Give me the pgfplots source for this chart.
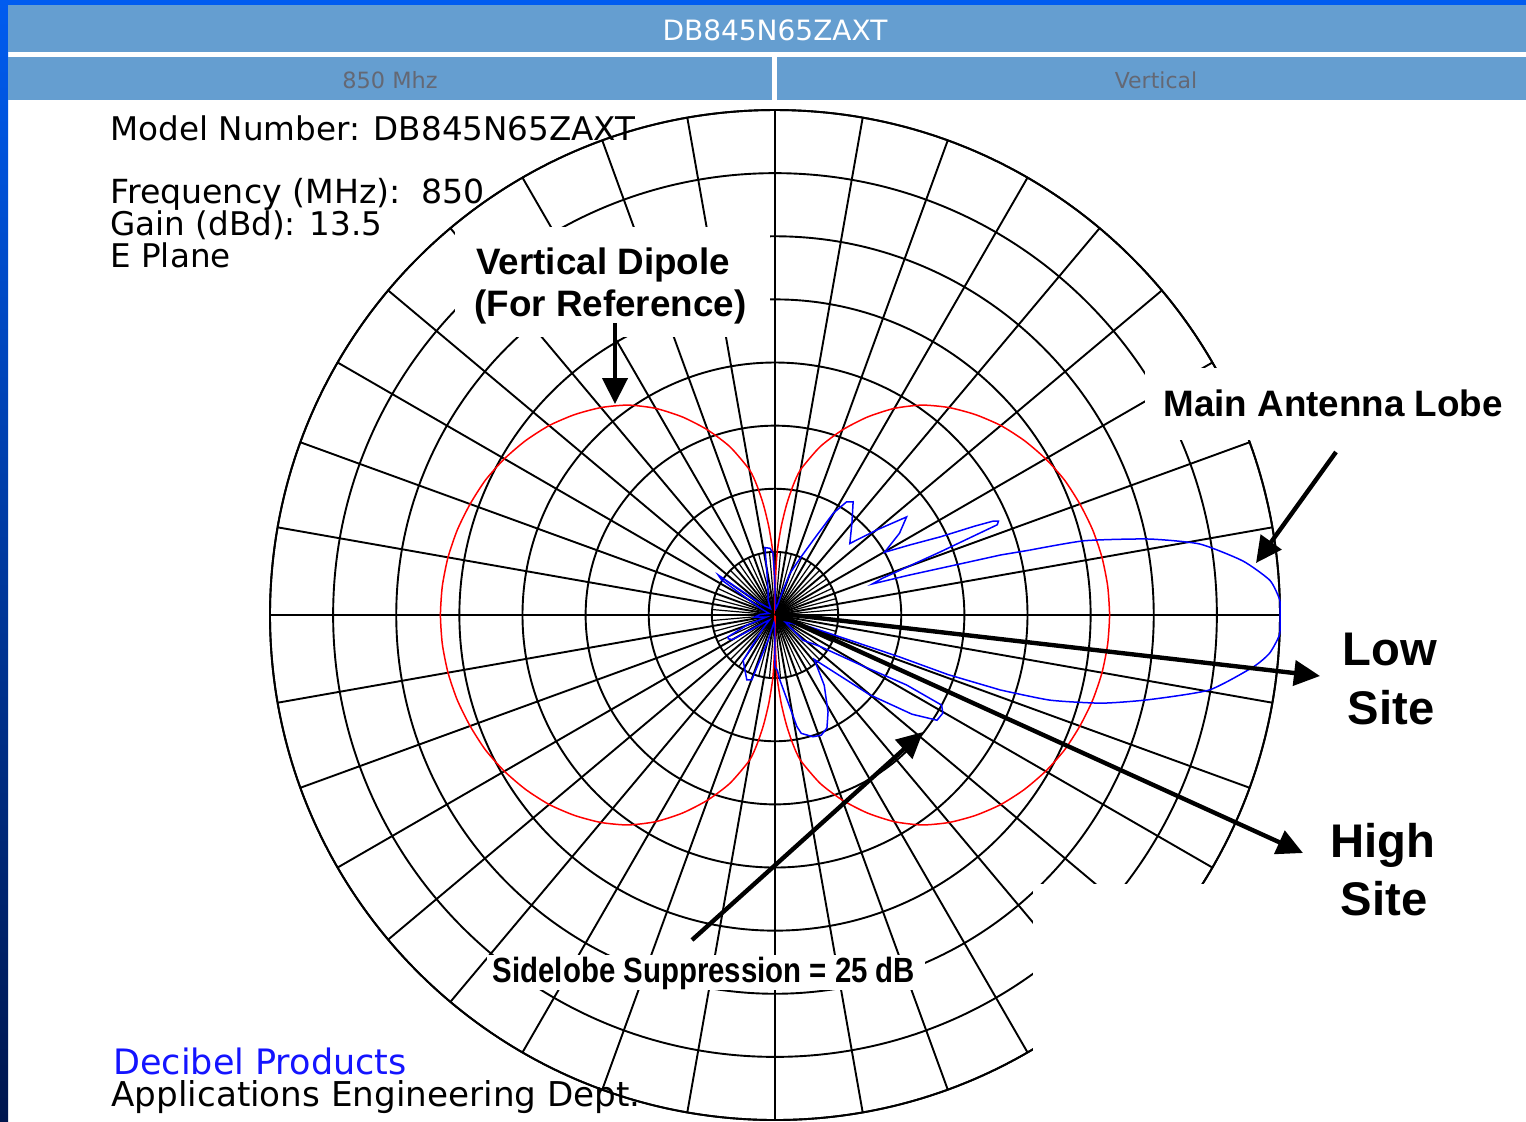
\documentclass[border=0pt]{standalone}
\usepackage{fontspec}
\setmainfont{DejaVu Sans}
\newfontfamily\lib{Liberation Sans}
\usepackage{pgfplots}
\pgfplotsset{compat=1.18}
\usepgfplotslibrary{polar}
\usetikzlibrary{arrows.meta}

\definecolor{hdr}{RGB}{101,158,208}
\definecolor{slide}{RGB}{0,92,240}
\definecolor{slidedark}{RGB}{0,22,78}
\definecolor{hdrtext}{RGB}{100,104,116}
\definecolor{pat}{RGB}{0,0,255}
\definecolor{dip}{RGB}{255,0,0}
\definecolor{deci}{RGB}{20,20,255}

\begin{document}
\begin{tikzpicture}
% page = 1526 x 1121 px, 1 px = 0.5pt
\path[use as bounding box, clip] (0,0) rectangle (763pt,-560.5pt);
\fill[white] (0,0) rectangle (763pt,-560.5pt);

\begin{polaraxis}[
  at={(387.5pt,-307.5pt)}, anchor=center,
  scale only axis, width=505pt, height=505pt,
  xmin=0, xmax=360, ymin=0, ymax=40,
  xtick={0,10,...,350}, ytick={5,10,...,40},
  xticklabels={}, yticklabels={},
  major tick length=0pt,
  grid=major,
  major grid style={black, line width=0.95pt},
  axis line style={black, line width=0.95pt},
  clip=false,
]
% extra 5 degree spokes inside the first ring
\pgfplotsinvokeforeach{5,15,...,355}{
  \addplot[black, line width=0.6pt, no marks] coordinates {(#1,0) (#1,5)};
}

% vertical dipole reference (dB + 40, gain 13.5 dB below the antenna)
\addplot[dip, line width=0.75pt, no marks, smooth, tension=0.4] coordinates {
  (-90,0) (-89,3.0) (-88,5.0) (-86,7.0) (-84,8.8) (-82,10.4) (-80,11.7)
  (-75,13.8) (-70,15.6) (-65,17.3) (-60,18.9) (-55,20.3) (-50,21.45)
  (-45,22.45) (-40,23.35) (-35,24.1) (-30,24.75) (-25,25.3) (-20,25.7)
  (-15,26.05) (-10,26.3) (-5,26.45) (0,26.5) (5,26.45) (10,26.3) (15,26.05)
  (20,25.7) (25,25.3) (30,24.75) (35,24.1) (40,23.35) (45,22.45) (50,21.45)
  (55,20.3) (60,18.9) (65,17.3) (70,15.6) (75,13.8) (80,11.7) (82,10.4)
  (84,8.8) (86,7.0) (88,5.0) (89,3.0) (90,0)
  (91,3.0) (92,5.0) (94,7.0) (96,8.8) (98,10.4) (100,11.7) (105,13.8)
  (110,15.6) (115,17.3) (120,18.9) (125,20.3) (130,21.45) (135,22.45)
  (140,23.35) (145,24.1) (150,24.75) (155,25.3) (160,25.7) (165,26.05)
  (170,26.3) (175,26.45) (180,26.5) (185,26.45) (190,26.3) (195,26.05)
  (200,25.7) (205,25.3) (210,24.75) (215,24.1) (220,23.35) (225,22.45)
  (230,21.45) (235,20.3) (240,18.9) (245,17.3) (250,15.6) (255,13.8)
  (260,11.7) (262,10.4) (264,8.8) (266,7.0) (268,5.0) (269,3.0) (270,0)
};

% DB845N65ZAXT elevation pattern: main lobe (upper half)
\addplot[pat, line width=0.75pt, no marks, smooth, tension=0.35] coordinates {
  (0,40) (1.7,40) (4.0,39.3) (6.6,37.3) (9.5,34.1) (11.5,30.2) (13.5,25.2)
  (14.3,20.8)
};
% side lobes, from the upper edge of the main lobe round to its lower edge
\addplot[pat, line width=0.75pt, no marks] coordinates {
  (14.3,20.8) (14.9,18.5) (15.6,14.4) (16.6,11.0) (17.7,8.1) (18.9,9.0)
  (20.9,14.0) (22.1,19.0) (22.8,19.2) (23.3,18.8) (24.0,17.3) (25.3,14.5)
  (27.5,12.0) (29.8,10.0) (33.3,11.8) (36.7,13.0) (39.9,10.5) (43.7,8.2)
  (50.1,9.5) (55.4,10.9) (57.7,10.6) (60.2,9.3) (62.9,6.7) (66.2,4.9)
  (70.3,3.5) (72.0,2.1) (76,0.8) (84,0.5) (88,1.0) (90.5,3.0) (91.8,4.9)
  (94.3,5.3) (98.5,5.4) (100.8,3.4) (106,2.0) (115,1.3) (125,0.6) (135,0.9)
  (142,1.5) (144.8,5.5) (146.7,5.05) (155,1.3) (165,0.5) (178,1.2) (186,1.6)
  (193,0.7) (200,2.4) (204.9,4.1) (207,4.15) (210,3.9) (215,1.0) (222,0.6)
  (228,1.4) (235,4.4) (246.5,5.6) (250.3,5.45) (255,2.0) (262,0.6) (268,0.8)
  (270,4.1) (272.5,4.4) (274.4,5.2) (281.1,9.0) (282.5,9.6) (287.3,10.1)
  (291,10.2) (294.7,9.85) (298.7,8.75) (305,6.8) (311.5,4.7) (319.9,9.8)
  (324.1,13.4) (327.0,15.3) (329.7,15.4) (331.6,15.0) (332.0,11.8)
  (330.0,8.2) (325.0,4.3) (318,3.0) (325,1.0) (341.2,2.9) (341.4,6.3)
  (341.4,10.4) (341.0,14.5) (341.6,18.8)
};
% main lobe (lower half)
\addplot[pat, line width=0.75pt, no marks, smooth, tension=0.35] coordinates {
  (341.6,18.8) (342.8,22.8) (344.9,26.8) (347.2,30.3) (350.2,34.9)
  (353.8,38.1) (355.6,39.3) (357.8,40) (360,40)
};
\end{polaraxis}

\begin{scope}[x=0.5pt,y=-0.5pt]
% slide background and header bars
\fill[slide] (0,0) rectangle (1526,5);
\shade[top color=slide, bottom color=slidedark] (0,0) rectangle (8,1121);
\fill[hdr] (8,5) rectangle (1526,52);
\fill[hdr] (8,57) rectangle (772,100);
\fill[hdr] (777,57) rectangle (1526,100);
\node[anchor=base, inner sep=0, text=white, font=\fontsize{14pt}{16pt}\selectfont]
  at (775,40) {DB845N65ZAXT};
\node[anchor=base, inner sep=0, text=hdrtext, font=\fontsize{11.2pt}{13pt}\selectfont]
  at (390,88) {850 Mhz};
\node[anchor=base, inner sep=0, text=hdrtext, font=\fontsize{11pt}{13pt}\selectfont]
  at (1156,88) {Vertical};

% white label boxes that cover the grid
\fill[white] (455,227) rectangle (770,337);
\fill[white] (1145,368) rectangle (1526,440);
\fill[white] (1033,884) rectangle (1526,1121);
\fill[white] (487,955) rectangle (925,990);

% plot information
\begin{scope}[every node/.style={anchor=base west, inner sep=0, font=\fontsize{16.3pt}{19pt}\selectfont}]
\node at (110,140) {Model Number: DB845N65ZAXT};
\node[font=\fontsize{16.6pt}{19pt}\selectfont] at (110,203) {Frequency (MHz):\ \ 850};
\node at (110,235) {Gain (dBd): 13.5};
\node at (110,267) {E Plane};
\node[text=deci, font=\fontsize{17.5pt}{19pt}\selectfont] at (113,1074) {Decibel Products};
\node[font=\fontsize{17.1pt}{19pt}\selectfont] at (111,1106) {Applications Engineering Dept.};
\end{scope}

% annotations
\begin{scope}[every node/.style={inner sep=0}]
\node[anchor=base west, font=\lib\bfseries\fontsize{18.4pt}{20pt}\selectfont] at (476,274) {Vertical Dipole};
\node[anchor=base west, font=\lib\bfseries\fontsize{18.4pt}{20pt}\selectfont] at (474,316) {(For Reference)};
\node[anchor=base west, font=\lib\bfseries\fontsize{18.4pt}{20pt}\selectfont] at (1163,416) {Main Antenna Lobe};
\node[anchor=base, font=\lib\bfseries\fontsize{23.6pt}{26pt}\selectfont] at (1390,665) {Low};
\node[anchor=base, font=\lib\bfseries\fontsize{23.6pt}{26pt}\selectfont] at (1391,724) {Site};
\node[anchor=base, font=\lib\bfseries\fontsize{23.6pt}{26pt}\selectfont] at (1383,857) {High};
\node[anchor=base, font=\lib\bfseries\fontsize{23.6pt}{26pt}\selectfont] at (1384,915) {Site};
\node[anchor=base, font=\lib\bfseries\fontsize{17.5pt}{20pt}\selectfont] at (704,982)
  {\scalebox{0.84}[1]{Sidelobe Suppression = 25 dB}};
\end{scope}

\begin{scope}[line width=2.2pt, -{Triangle[length=13pt, width=12.5pt]}]
\draw (615,323) -- (615,404);
\draw (1336,452) -- (1256,563);
\draw (775,613) -- (1320,676);
\draw (775,613) -- (1303,853);
\draw (692,940) -- (923,732);
\end{scope}
\end{scope}
\end{tikzpicture}
\end{document}
